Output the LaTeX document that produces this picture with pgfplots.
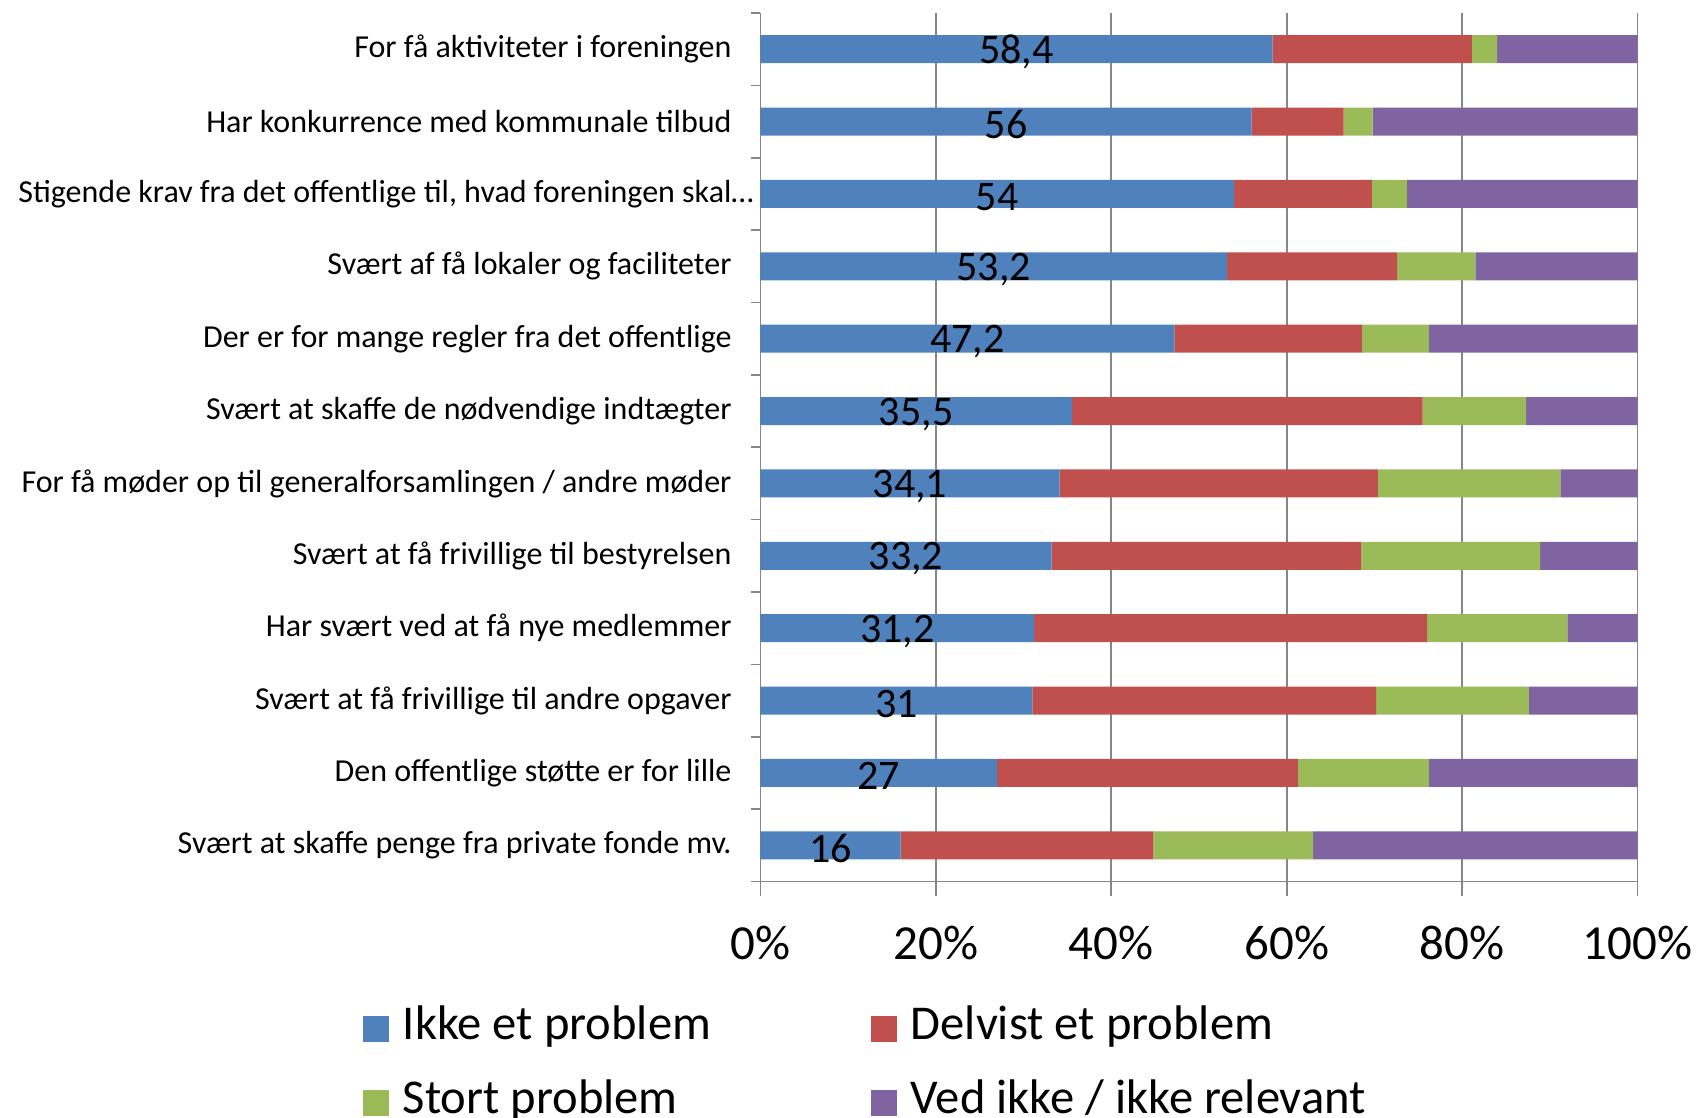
\documentclass[border=0pt]{standalone}
\usepackage{fontspec}
\setmainfont{Carlito}
\usepackage{pgfplots}
\usepackage{pgfplotstable}
\pgfplotsset{compat=1.18}

\definecolor{cblue}{HTML}{4F81BD}
\definecolor{cred}{HTML}{C0504D}
\definecolor{cgreen}{HTML}{9BBB59}
\definecolor{cpurple}{HTML}{8064A2}
\definecolor{cgrid}{HTML}{868686}

% y: row from top, a: ikke et problem, b: delvist, c: stort, d: ved ikke
\pgfplotstableread{
y a b c d lab
0 58.4 22.7 2.9 16.0 58,4
1 56.0 10.5 3.3 30.2 56
2 54.0 15.7 4.0 26.3 54
3 53.2 19.4 8.9 18.5 53,2
4 47.2 21.4 7.6 23.8 47,2
5 35.5 40.0 11.8 12.7 35,5
6 34.1 36.3 20.8 8.8 34,1
7 33.2 35.3 20.4 11.1 33,2
8 31.2 44.8 16.0 8.0 31,2
9 31.0 39.2 17.4 12.4 31
10 27.0 34.3 14.9 23.8 27
11 16.0 28.8 18.2 37.0 16
}\data

\begin{document}
\begin{tikzpicture}
\path[use as bounding box] (-380.2pt,-118.25pt) rectangle (467.8pt,440.75pt);
\begin{axis}[
    at={(0,0)}, anchor=south west,
    scale only axis, width=438.6pt, height=434.25pt,
    xbar stacked, bar width=14pt,
    xmin=0, xmax=100, ymin=-0.5, ymax=11.5, y dir=reverse,
    axis x line*=bottom, axis y line*=left,
    axis line style={draw=cgrid, line width=0.8pt},
    xmajorgrids, grid style={draw=cgrid, line width=0.8pt},
    tick align=outside,
    xtick={0,20,40,60,80,100},
    xticklabels={0\%,20\%,40\%,60\%,80\%,100\%},
    xticklabel style={font=\fontsize{24.5}{29}\selectfont, inner sep=0pt, yshift=-17.7pt},
    major x tick style={draw=cgrid, line width=0.8pt, /pgfplots/major tick length=7pt},
    ytick={0,...,11},
    yticklabels={
      For få aktiviteter i foreningen,
      Har konkurrence med kommunale tilbud,
      {Stigende krav fra det offentlige til, hvad foreningen skal\rlap{…}},
      Svært af få lokaler og faciliteter,
      Der er for mange regler fra det offentlige,
      Svært at skaffe de nødvendige indtægter,
      For få møder op til generalforsamlingen / andre møder,
      Svært at få frivillige til bestyrelsen,
      Har svært ved at få nye medlemmer,
      Svært at få frivillige til andre opgaver,
      Den offentlige støtte er for lille,
      Svært at skaffe penge fra private fonde mv.},
    yticklabel style={font=\fontsize{16}{19}\selectfont, inner sep=0pt, xshift=-10pt},
    major y tick style={draw=none},
    minor ytick={-0.5,0.5,...,11.5},
    minor y tick style={draw=cgrid, line width=0.8pt, /pgfplots/minor tick length=4.5pt},
    legend image code/.code={\fill[#1] (0pt,-6.5pt) rectangle (13pt,6.5pt);},
    legend columns=2,
    legend cell align=left,
    legend style={
      at={(axis description cs:-0.4537,-0.1423)}, anchor=north west,
      draw=none, fill=none, inner sep=0pt, column sep=0pt, row sep=14pt,
      font=\fontsize{24.3}{29}\selectfont,
      nodes={inner sep=0pt, text height=17pt, text depth=6pt},
      /tikz/every odd column/.append style={column sep=7pt}},
]
\addplot[fill=cblue, draw=none,
    nodes near coords, point meta=explicit symbolic,
    nodes near coords style={font=\fontsize{21}{25}\selectfont, text=black, yshift=-1.5pt}]
    table[x=a, y=y, meta=lab] {\data};
\addlegendentry{\makebox[234pt][l]{Ikke et problem}}
\addplot[fill=cred, draw=none] table[x=b, y=y] {\data};
\addlegendentry{Delvist et problem}
\addplot[fill=cgreen, draw=none] table[x=c, y=y] {\data};
\addlegendentry{\makebox[234pt][l]{Stort problem}}
\addplot[fill=cpurple, draw=none] table[x=d, y=y] {\data};
\addlegendentry{Ved ikke / ikke relevant}
\end{axis}
\end{tikzpicture}
\end{document}
